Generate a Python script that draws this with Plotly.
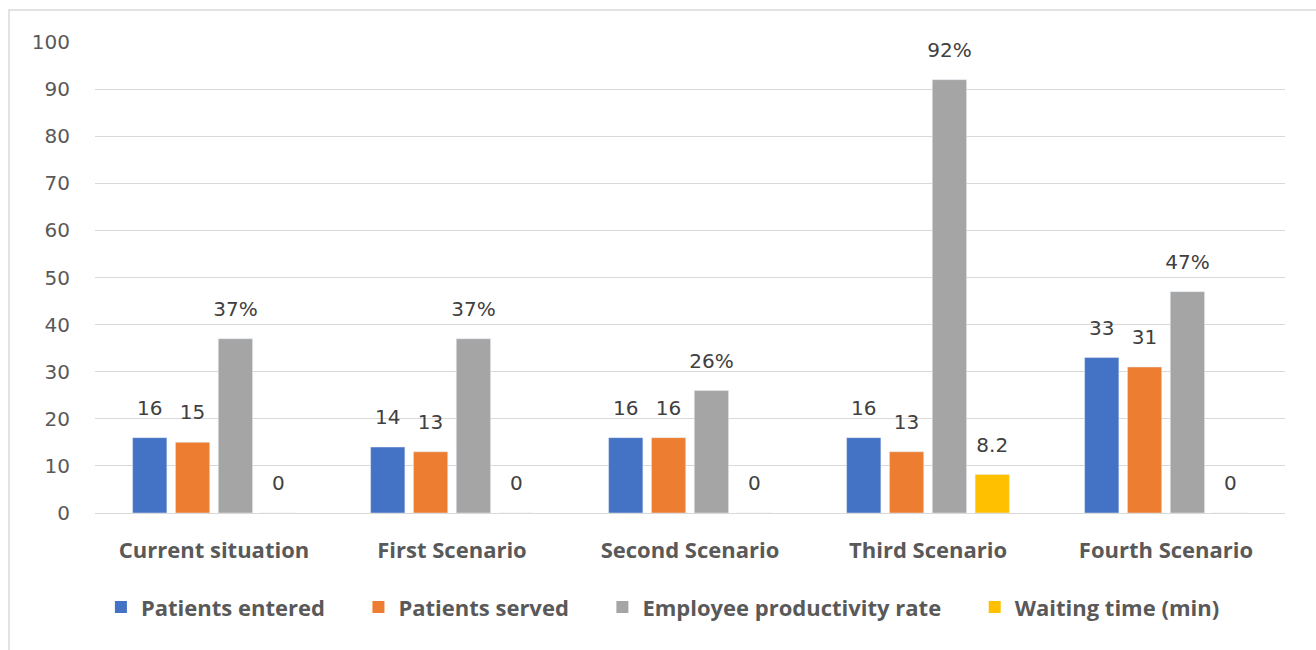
import plotly.graph_objects as go

categories = ["Current situation", "First Scenario", "Second Scenario", "Third Scenario", "Fourth Scenario"]
patients_entered = [16, 14, 16, 16, 33]
patients_served = [15, 13, 16, 13, 31]
productivity = [37, 37, 26, 92, 47]
waiting_time = [0, 0, 0, 8.2, 0]

TEXT_FONT = "'Open Sans', sans-serif"
NUM_FONT = "'DejaVu Sans', sans-serif"
GREY = "#595959"

series = [
    ("Patients entered", patients_entered, "#4472C4", "%{y}"),
    ("Patients served", patients_served, "#ED7D31", "%{y}"),
    ("Employee productivity rate", productivity, "#A5A5A5", "%{y}%"),
    ("Waiting time (min)", waiting_time, "#FFC000", "%{y}"),
]

fig = go.Figure()
for i, (name, vals, color, tmpl) in enumerate(series):
    fig.add_trace(go.Bar(
        x=categories, y=vals, name=name, marker_color=color,
        showlegend=False, hoverinfo="skip", offsetgroup=f"g{i}",
    ))
for i, (name, vals, color, tmpl) in enumerate(series):
    fig.add_trace(go.Scatter(
        x=categories, y=vals, mode="markers+text", texttemplate=tmpl,
        textposition="top center", marker=dict(size=27, opacity=0, color=color),
        textfont=dict(family=NUM_FONT, size=20, color="#404040"),
        showlegend=False, hoverinfo="skip", offsetgroup=f"g{i}", cliponaxis=False,
    ))
for i, (name, vals, color, tmpl) in enumerate(series):
    fig.add_trace(go.Scatter(
        x=[categories[0]], y=[None], mode="markers", name=name + "\u00a0" * 5,
        marker=dict(symbol="square", size=15, color=color),
        showlegend=True, hoverinfo="skip", offsetgroup=f"g{i}",
    ))

fig.update_layout(
    width=1316, height=650,
    margin=dict(l=95, r=31, t=42, b=137),
    paper_bgcolor="white", plot_bgcolor="white",
    barmode="group", bargap=0.28, bargroupgap=0.2,
    scattermode="group", scattergap=0.28,
    font=dict(family=TEXT_FONT, color=GREY),
    legend=dict(orientation="h", x=0.489, xanchor="center", y=-0.2, yanchor="middle",
                font=dict(family=TEXT_FONT, size=22, color=GREY, weight="bold"),
                itemsizing="constant"),
    shapes=[dict(type="rect", xref="paper", yref="paper",
                 x0=-0.0723, x1=1.05, y0=-0.4, y1=1.068,
                 line=dict(color="#D9D9D9", width=1.5), fillcolor="rgba(0,0,0,0)", layer="below")],
)
fig.update_yaxes(range=[0, 100], dtick=10, showgrid=True, gridcolor="#D9D9D9", gridwidth=1,
                 zeroline=True, zerolinecolor="#D9D9D9", zerolinewidth=1,
                 showline=False, ticks="", ticklabelstandoff=24,
                 tickfont=dict(family=NUM_FONT, size=20, color=GREY))
fig.update_xaxes(showgrid=False, showline=False, ticks="", ticklabelstandoff=22,
                 tickfont=dict(family=TEXT_FONT, size=22, color=GREY, weight="bold"))

fig.write_html("out.html")
